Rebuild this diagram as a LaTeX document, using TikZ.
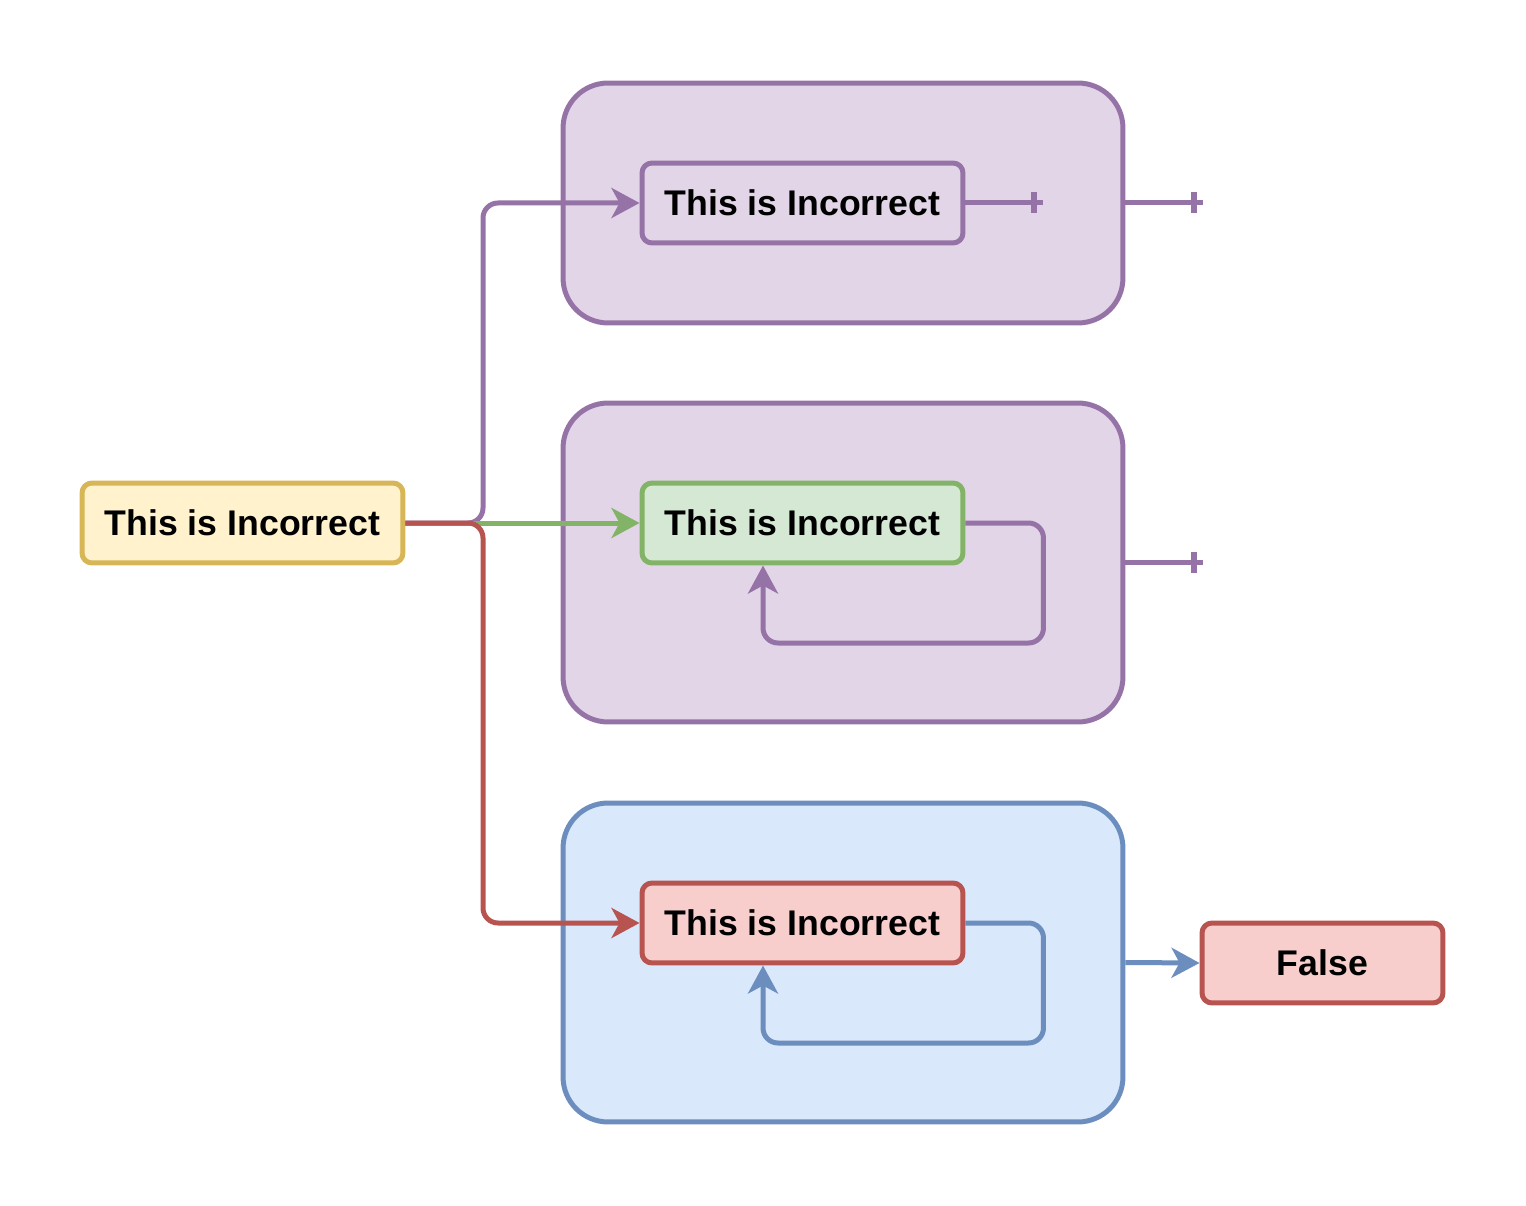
\documentclass[tikz,border=0pt]{standalone}
\usepackage{fontspec}
\setmainfont{Liberation Sans}
\usetikzlibrary{arrows.meta}
\definecolor{pstroke}{HTML}{9673A6}
\definecolor{pfill}{HTML}{E1D5E7}
\definecolor{gstroke}{HTML}{82B366}
\definecolor{gfill}{HTML}{D5E8D4}
\definecolor{rstroke}{HTML}{B85450}
\definecolor{rfill}{HTML}{F8CECC}
\definecolor{bstroke}{HTML}{6C8EBF}
\definecolor{bfill}{HTML}{DAE8FC}
\definecolor{ystroke}{HTML}{D6B656}
\definecolor{yfill}{HTML}{FFF2CC}
\tikzset{
  container/.style={draw, line width=0.1cm, rounded corners=0.9cm, minimum width=11.2cm, inner sep=0pt},
  box/.style={draw, line width=0.1cm, rounded corners=0.2cm, minimum width=6.42cm, minimum height=1.6cm, inner sep=0pt, font=\fontsize{20.3}{24}\selectfont\bfseries},
  conn/.style={line width=0.1cm, rounded corners=0.3cm},
  arr/.style={-{Stealth[length=0.56cm, width=0.6cm, inset=0.16cm]}},
  barline/.style={line width=0.12cm},
}
\begin{document}
\begin{tikzpicture}[x=0.02cm, y=-0.02cm]
\useasboundingbox (0,0) rectangle (1526,1206);
% containers
\node[container, draw=pstroke, fill=pfill, minimum height=4.8cm] (C1) at (843,203) {};
\node[container, draw=pstroke, fill=pfill, minimum height=6.38cm] (C2) at (843,562.5) {};
\node[container, draw=bstroke, fill=bfill, minimum height=6.38cm] (C3) at (843,962.5) {};
% boxes
\node[box, draw=ystroke, fill=yfill] (Y) at (242.5,523) {This is Incorrect};
\node[box, draw=pstroke, fill=pfill] (B1) at (802.5,203) {This is Incorrect};
\node[box, draw=gstroke, fill=gfill] (B2) at (802.5,523) {This is Incorrect};
\node[box, draw=rstroke, fill=rfill] (B3) at (802.5,923) {This is Incorrect};
\node[box, draw=rstroke, fill=rfill, minimum width=4.82cm] (F) at (1322.5,963) {False};
% connectors from Y
\draw[conn, arr, draw=pstroke] (Y.east) -- (483,523) |- (B1.west);
\draw[conn, arr, draw=gstroke] (Y.east) -- (B2.west);
\draw[conn, arr, draw=rstroke] (Y.east) -- (483,523) |- (B3.west);
% loops
\draw[conn, arr, draw=pstroke] (B2.east) -- ++(78,0) -- ++(0,120) -| ([xshift=-0.79cm]B2.south);
\draw[conn, arr, draw=bstroke] (B3.east) -- ++(78,0) -- ++(0,120) -| ([xshift=-0.79cm]B3.south);
% bar ended lines
\draw[conn, draw=pstroke] (B1.east) -- ++(78,0) coordinate (e0);
\draw[barline, draw=pstroke] ([xshift=-0.18cm]e0) ++(0,-10.5) -- ++(0,21);
\draw[conn, draw=pstroke] (C1.east) -- ++(78,0) coordinate (e1);
\draw[barline, draw=pstroke] ([xshift=-0.18cm]e1) ++(0,-10.5) -- ++(0,21);
\draw[conn, draw=pstroke] (C2.east) -- ++(78,0) coordinate (e2);
\draw[barline, draw=pstroke] ([xshift=-0.18cm]e2) ++(0,-10.5) -- ++(0,21);
% to False
\draw[conn, arr, draw=bstroke] (C3.east) -- (F.west);
\end{tikzpicture}
\end{document}
